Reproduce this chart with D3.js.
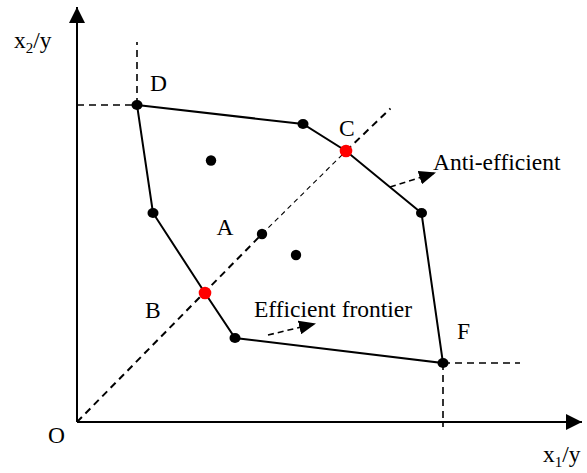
<!DOCTYPE html>
<html lang="en">
<head>
<meta charset="utf-8">
<title>Efficient frontier</title>
<script src="https://cdn.jsdelivr.net/npm/d3@7"></script>
<style>
  body { margin: 0; background: #fff; }
  text { font-family: "Liberation Serif", "Times New Roman", serif; font-size: 23.5px; fill: #000; }
</style>
</head>
<body>
<script>
// frontier polygon, clockwise from D
var hullX = [1.2, 4.52, 5.38, 6.89, 7.32, 3.16, 2.56, 1.52];
var hullY = [6.34, 5.96, 5.42, 4.18, 1.18, 1.68, 2.58, 4.18];
// red points B and C (on the ray from O)
var redX = [2.56, 5.38];
var redY = [2.58, 5.42];
// interior units
var innerX = [2.68, 3.7, 4.38];
var innerY = [5.23, 3.76, 3.34];
// ray from O
var rayX = [0, 3.7, 5.38, 6.27];
var rayY = [0, 3.76, 5.42, 6.27];
// labels
var labels = ["D", "C", "A", "B", "F", "O"];
var labelX = [1.46, 5.24, 2.79, 1.36, 7.6, -0.58];
var labelY = [6.63, 5.72, 3.74, 2.08, 1.66, -0.41];

var w = 587, h = 473;
var svg = d3.select("body").append("svg")
  .attr("width", w).attr("height", h);

var x = d3.scaleLinear().domain([0, 10]).range([77, 577]);
var y = d3.scaleLinear().domain([0, 8]).range([422, 22]);

var defs = svg.append("defs");
defs.append("marker").attr("id", "big")
  .attr("markerUnits", "userSpaceOnUse")
  .attr("viewBox", "0 -8 16 16").attr("refX", 16).attr("refY", 0)
  .attr("markerWidth", 16).attr("markerHeight", 16).attr("orient", "auto")
  .append("path").attr("d", "M0,-8L16,0L0,8Z").attr("fill", "#000");
defs.append("marker").attr("id", "small")
  .attr("markerUnits", "userSpaceOnUse")
  .attr("viewBox", "0 -7 17 14").attr("refX", 17).attr("refY", 0)
  .attr("markerWidth", 17).attr("markerHeight", 14).attr("orient", "auto")
  .append("path").attr("d", "M0,-7L17,0L0,7Z").attr("fill", "#000");

// axes
svg.append("line")
  .attr("x1", x(0)).attr("y1", y(0)).attr("x2", x(10.1)).attr("y2", y(0))
  .attr("stroke", "#000").attr("stroke-width", 2).attr("marker-end", "url(#big)");
svg.append("line")
  .attr("x1", x(0)).attr("y1", y(0)).attr("x2", x(0)).attr("y2", y(8.3))
  .attr("stroke", "#000").attr("stroke-width", 2).attr("marker-end", "url(#big)");

// guide lines at D and F
var guides = [
  [0, 6.34, 1.2, 6.34], [1.2, 6.34, 1.2, 7.6],
  [7.32, 1.18, 8.86, 1.18], [7.32, 1.18, 7.32, -0.1]
];
svg.selectAll(".guide").data(guides).enter().append("line")
  .attr("class", "guide")
  .attr("x1", function(d) { return x(d[0]); })
  .attr("y1", function(d) { return y(d[1]); })
  .attr("x2", function(d) { return x(d[2]); })
  .attr("y2", function(d) { return y(d[3]); })
  .attr("stroke", "#000").attr("stroke-width", 1.6)
  .attr("stroke-dasharray", "7,5");

// ray O -> beyond C, thin between A and C
var raySegs = d3.range(rayX.length - 1);
svg.selectAll(".ray").data(raySegs).enter().append("line")
  .attr("class", "ray")
  .attr("x1", function(i) { return x(rayX[i]); })
  .attr("y1", function(i) { return y(rayY[i]); })
  .attr("x2", function(i) { return x(rayX[i + 1]); })
  .attr("y2", function(i) { return y(rayY[i + 1]); })
  .attr("stroke", "#000")
  .attr("stroke-width", function(i) { return i == 1 ? 1.1 : 2; })
  .attr("stroke-dasharray", function(i) { return i == 1 ? "5,4" : "7,5"; });

// frontier
var hull = hullX.map(function(d, i) { return [x(d), y(hullY[i])]; });
svg.append("path")
  .attr("d", d3.line().curve(d3.curveLinearClosed)(hull))
  .attr("fill", "none").attr("stroke", "#000").attr("stroke-width", 2);

// black points: hull vertices except B, C
var blackIdx = [0, 1, 3, 4, 5, 7];
svg.selectAll(".hv").data(blackIdx).enter().append("ellipse")
  .attr("cx", function(i) { return x(hullX[i]); })
  .attr("cy", function(i) { return y(hullY[i]); })
  .attr("rx", 5.5).attr("ry", 5).attr("fill", "#000");
svg.selectAll(".iv").data(innerX).enter().append("ellipse")
  .attr("cx", function(d) { return x(d); })
  .attr("cy", function(d, i) { return y(innerY[i]); })
  .attr("rx", 5.2).attr("ry", 5.2).attr("fill", "#000");
svg.selectAll(".rv").data(redX).enter().append("circle")
  .attr("cx", function(d) { return x(d); })
  .attr("cy", function(d, i) { return y(redY[i]); })
  .attr("r", 6.3).attr("fill", "#ff0000");

// small direction arrows
var arrows = [[3.82, 1.74, 4.78, 1.97], [6.26, 4.7, 7.18, 4.99]];
svg.selectAll(".dir").data(arrows).enter().append("line")
  .attr("x1", function(d) { return x(d[0]); })
  .attr("y1", function(d) { return y(d[1]); })
  .attr("x2", function(d) { return x(d[2]); })
  .attr("y2", function(d) { return y(d[3]); })
  .attr("stroke", "#000").attr("stroke-width", 1.6)
  .attr("stroke-dasharray", "6,4").attr("marker-end", "url(#small)");

// point labels
svg.selectAll(".lbl").data(labels).enter().append("text")
  .attr("x", function(d, i) { return x(labelX[i]); })
  .attr("y", function(d, i) { return y(labelY[i]); })
  .text(function(d) { return d; });

svg.append("text").attr("x", x(3.54)).attr("y", y(2.11)).text("Efficient frontier");
svg.append("text").attr("x", x(7.12)).attr("y", y(5.04)).text("Anti-efficient");

// axis titles
var ty = svg.append("text").attr("x", 14).attr("y", 48);
ty.append("tspan").text("x");
ty.append("tspan").attr("font-size", 15).attr("dy", 5).text("2");
ty.append("tspan").attr("dy", -5).text("/y");
var tx = svg.append("text").attr("x", 543).attr("y", 462);
tx.append("tspan").text("x");
tx.append("tspan").attr("font-size", 15).attr("dy", 5).text("1");
tx.append("tspan").attr("dy", -5).text("/y");
</script>
</body>
</html>
